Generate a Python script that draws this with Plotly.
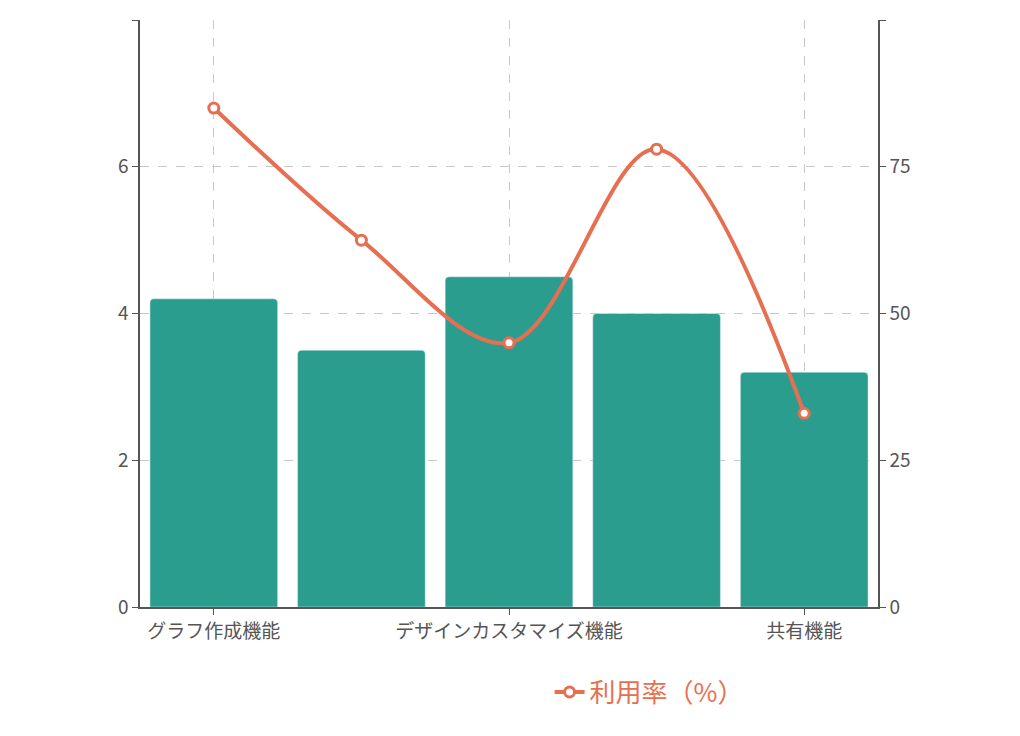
import plotly.graph_objects as go

categories = ["グラフ作成機能", "データ連携機能", "デザインカスタマイズ機能", "テンプレート機能", "共有機能"]
satisfaction = [4.2, 3.5, 4.5, 4.0, 3.2]
usage = [85, 62.5, 45, 78, 33]
shown_ticks = ["グラフ作成機能", "デザインカスタマイズ機能", "共有機能"]

teal = "#2a9d8f"
orange = "#e76f51"
font = "Noto Sans CJK JP"

fig = go.Figure()
fig.add_trace(go.Bar(x=categories, y=satisfaction, name="満足度（5点満点）",
                     marker=dict(color=teal, cornerradius=4), yaxis="y", legend="legend"))
fig.add_trace(go.Scatter(x=categories, y=usage, name="利用率（%）", yaxis="y2", legend="legend2",
                         mode="lines+markers", line=dict(color=orange, width=4, shape="spline"),
                         marker=dict(size=10, color="white", line=dict(color=orange, width=3))))

grid = dict(showgrid=True, gridcolor="#c8c8c8", griddash="dash", gridwidth=1.3)
tick = dict(ticks="outside", ticklen=6, tickcolor="#555", showline=True, linecolor="#555",
            linewidth=1.5, tickfont=dict(size=19, color="#555"))
fig.update_layout(
    width=1020, height=736,
    margin=dict(l=132, r=150, t=12, b=137),
    plot_bgcolor="white", paper_bgcolor="white",
    font=dict(family=font, size=19, color="#555"),
    bargap=0.135,
    xaxis=dict(type="category", tickvals=shown_ticks, **tick, **grid),
    yaxis=dict(range=[0, 8], dtick=2, zeroline=False, **tick, **grid),
    yaxis2=dict(range=[0, 100], dtick=25, overlaying="y", side="right",
                showgrid=False, zeroline=False, **tick),
    legend=dict(orientation="h", x=0.105, xanchor="left", y=-0.145, yanchor="middle",
                font=dict(size=26, color=teal)),
    legend2=dict(orientation="h", x=0.555, xanchor="left", y=-0.145, yanchor="middle",
                 font=dict(size=26, color=orange)),
)
fig.write_html("out.html")
